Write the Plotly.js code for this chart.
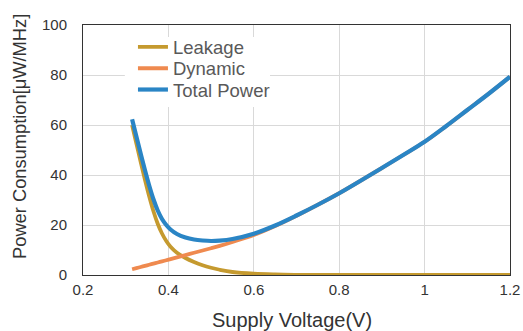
<!DOCTYPE html>
<html>
<head>
<meta charset="utf-8">
<script src="https://cdn.plot.ly/plotly-3.0.1.min.js"></script>
<style>html,body{margin:0;padding:0;background:#fff;}#chart{width:523px;height:331px;}</style>
</head>
<body>
<div id="chart"></div>
<script>
var voltage = [0.315, 0.325, 0.335, 0.345, 0.355, 0.365, 0.375, 0.385, 0.395, 0.405, 0.42, 0.44, 0.46, 0.48, 0.5, 0.52, 0.55, 0.6, 0.65, 0.7, 0.75, 0.8, 0.85, 0.9, 0.95, 1.0, 1.05, 1.1, 1.15, 1.2];
var leakage = [60, 52.6, 45.3, 38.2, 31.5, 25.5, 20.5, 16.6, 13.6, 11.3, 8.9, 6.8, 5.2, 3.9, 2.9, 2.1, 1.2, 0.5, 0.2, 0.08, 0.03, 0.01, 0, 0, 0, 0, 0, 0, 0, 0];
var dynamic = [2.3, 2.75, 3.2, 3.65, 4.1, 4.55, 5.0, 5.45, 5.9, 6.35, 7.05, 7.95, 8.9, 9.8, 10.7, 11.65, 13.2, 16.0, 19.6, 23.7, 28.1, 32.7, 37.7, 42.8, 48.0, 53.3, 59.5, 66.0, 72.5, 79.3];
var total = [62.3, 55.4, 48.6, 42.0, 35.8, 30.3, 25.8, 22.4, 20.0, 18.2, 16.4, 15.0, 14.2, 13.8, 13.6, 13.75, 14.4, 16.5, 19.8, 23.8, 28.1, 32.7, 37.7, 42.8, 48.0, 53.3, 59.5, 66.0, 72.5, 79.3];
var xTicks = [0.2, 0.4, 0.6, 0.8, 1, 1.2];
var xTickText = ['0.2', '0.4', '0.6', '0.8', '1', '1.2'];
var yTicks = [0, 20, 40, 60, 80, 100];

var traces = [
  {x: voltage, y: leakage, name: 'Leakage', mode: 'lines', legend: 'legend', line: {color: '#C59A2F', width: 3.8, shape: 'spline'}},
  {x: voltage, y: dynamic, name: 'Dynamic', mode: 'lines', legend: 'legend2', line: {color: '#EF8A4F', width: 3.8, shape: 'spline'}},
  {x: voltage, y: total, name: 'Total Power', mode: 'lines', legend: 'legend3', line: {color: '#2A85C5', width: 4.2, shape: 'spline'}}
];
var legFont = {size: 18.5, color: '#595959', family: 'Liberation Sans, Arial, sans-serif'};
var legX = 0.117;
var clear = 'rgba(0,0,0,0)';
var layout = {
  width: 523, height: 331,
  margin: {l: 83, r: 13, t: 25, b: 56},
  paper_bgcolor: '#fff', plot_bgcolor: '#fff',
  font: {family: 'Liberation Sans, Arial, sans-serif', color: '#333', size: 15},
  xaxis: {
    range: [0.2, 1.2], tickvals: xTicks, ticktext: xTickText,
    showgrid: true, gridcolor: '#d9d9d9', gridwidth: 1,
    showline: true, linecolor: '#333', linewidth: 1, mirror: true,
    zeroline: false, ticks: '', ticklabelstandoff: 1,
    tickfont: {size: 15, color: '#333'}
  },
  yaxis: {
    range: [0, 100], tickvals: yTicks,
    showgrid: true, gridcolor: '#d9d9d9', gridwidth: 1,
    showline: true, linecolor: '#333', linewidth: 1, mirror: true,
    zeroline: false, ticks: '', ticklabelstandoff: 12,
    tickfont: {size: 15, color: '#333'}
  },
  shapes: [
    {type: 'rect', xref: 'paper', yref: 'paper', x0: 0.098, x1: 0.438, y0: 0.672, y1: 0.952, fillcolor: '#fff', line: {width: 0}, layer: 'above'}
  ],
  annotations: [
    {text: 'Supply Voltage(V)', xref: 'paper', yref: 'paper', x: 0.4895, y: -0.18, xanchor: 'center', yanchor: 'middle', showarrow: false, font: {size: 20, color: '#333'}},
    {text: 'Power Consumption[μW/MHz]', xref: 'paper', yref: 'paper', x: -0.15, y: 0.556, xanchor: 'center', yanchor: 'middle', textangle: -90, showarrow: false, font: {size: 18.3, color: '#333'}}
  ],
  legend: {x: legX, y: 0.9108, xanchor: 'left', yanchor: 'middle', bgcolor: clear, borderwidth: 0, font: legFont},
  legend2: {x: legX, y: 0.8252, xanchor: 'left', yanchor: 'middle', bgcolor: clear, borderwidth: 0, font: legFont},
  legend3: {x: legX, y: 0.74, xanchor: 'left', yanchor: 'middle', bgcolor: clear, borderwidth: 0, font: legFont},
  showlegend: true
};
Plotly.newPlot('chart', traces, layout, {displayModeBar: false, staticPlot: true});
</script>
</body>
</html>
